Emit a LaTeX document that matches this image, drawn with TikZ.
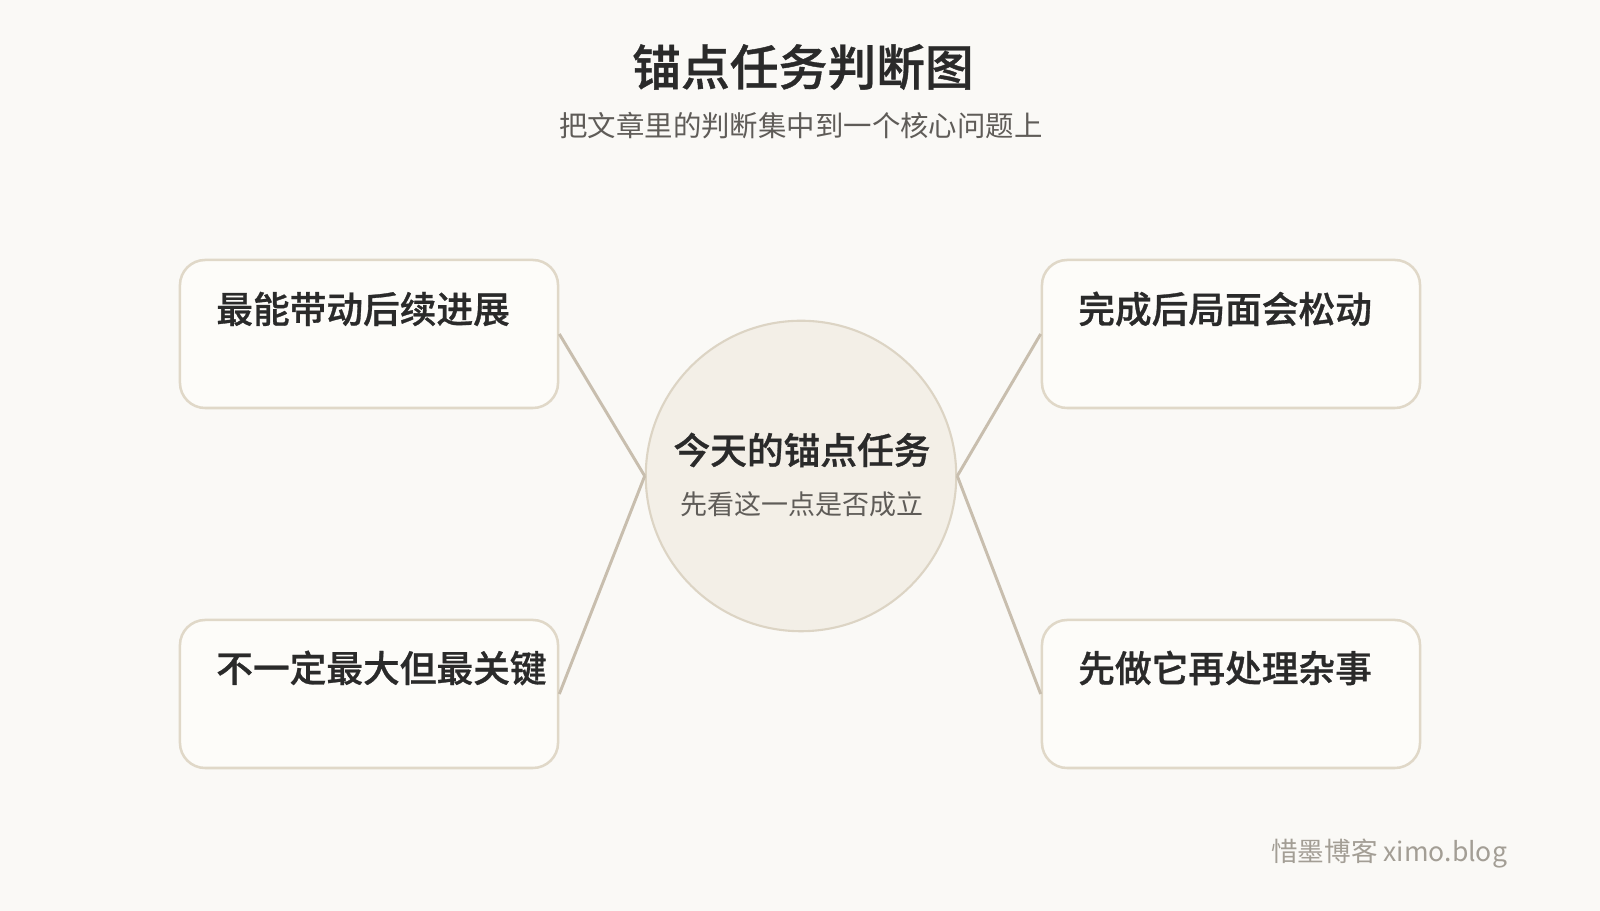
\documentclass[tikz,border=0pt]{standalone}
\usepackage{fontspec}
\setmainfont{Noto Sans CJK SC}[BoldFont={Noto Sans CJK SC Medium},BoldFeatures={FakeBold=0.8}]
\usetikzlibrary{positioning}
\definecolor{bgpaper}{HTML}{FAF9F6}
\definecolor{cardfill}{HTML}{FDFCF9}
\definecolor{cardedge}{HTML}{E0D8C8}
\definecolor{hubfill}{HTML}{F3EFE7}
\definecolor{hubedge}{HTML}{DCD4C4}
\definecolor{linkcol}{HTML}{C8BEAE}
\definecolor{inkdark}{HTML}{2A2A2A}
\definecolor{inkgrey}{HTML}{5F5C58}
\definecolor{inkfoot}{HTML}{A39E95}
\begin{document}
\begin{tikzpicture}[x=0.025cm,y=0.025cm,
  card/.style={draw=cardedge,line width=1.8pt,fill=cardfill,rounded corners=0.63cm,
    minimum width=9.45cm,minimum height=3.7cm,inner sep=0pt},
  cardtext/.style={anchor=west,inner sep=0pt,text=inkdark,font=\fontsize{26.1}{29}\selectfont\bfseries},
  hub/.style={circle,draw=hubedge,line width=1.5pt,fill=hubfill,minimum size=7.76cm,inner sep=0pt},
  link/.style={draw=linkcol,line width=2.1pt}]
\fill[bgpaper] (0,0) rectangle (1600,911);

\node[text=inkdark,font=\fontsize{34.7}{40}\selectfont\bfseries] (title) at (803,844) {锚点任务判断图};
\node[text=inkgrey,font=\fontsize{20.2}{24}\selectfont] (subtitle) at (801,785) {把文章里的判断集中到一个核心问题上};

\node[hub] (hub) at (801,435) {};
\node[text=inkdark,font=\fontsize{26.1}{29}\selectfont\bfseries] (hubtitle) at (802,461) {今天的锚点任务};
\node[text=inkgrey,font=\fontsize{19.2}{22}\selectfont] (hubsub) at (802,407) {先看这一点是否成立};

\node[card] (lt) at (369,577) {};
\node[card] (lb) at (369,217) {};
\node[card] (rt) at (1231,577) {};
\node[card] (rb) at (1231,217) {};

\node[cardtext] (lttext) at (216,602) {最能带动后续进展};
\node[cardtext] (lbtext) at (216,243) {不一定最大但最关键};
\node[cardtext] (rttext) at (1078,602) {完成后局面会松动};
\node[cardtext] (rbtext) at (1078,243) {先做它再处理杂事};

\path[link] (lt.east) -- (hub.west);
\path[link] (lb.east) -- (hub.west);
\path[link] (rt.west) -- (hub.east);
\path[link] (rb.west) -- (hub.east);

\node[anchor=east,text=inkfoot,font=\fontsize{18.9}{22}\selectfont] (footer) at (1512,57) {惜墨博客 ximo.blog};
\end{tikzpicture}
\end{document}
